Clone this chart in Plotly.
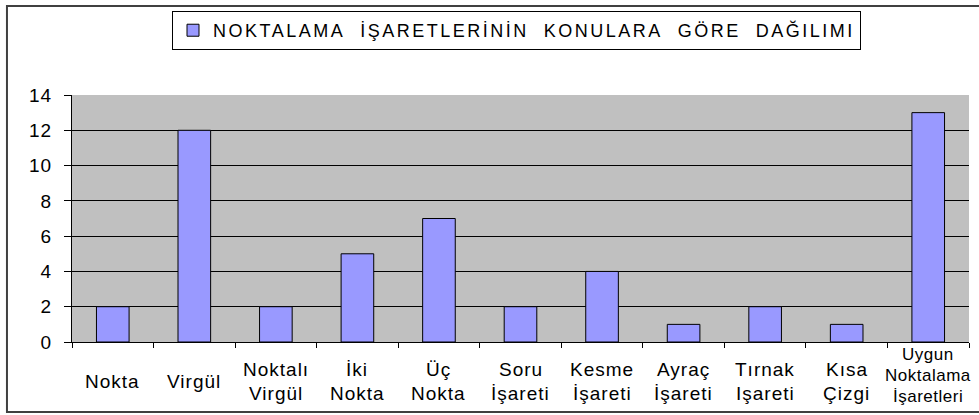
import plotly.graph_objects as go

# Categories (multi-line labels use "\n") and counts
categories = ["Nokta", "Virgül", "Noktalı\nVirgül", "İki\nNokta", "Üç\nNokta",
              "Soru\nİşareti", "Kesme\nİşareti", "Ayraç\nİşareti", "Tırnak\nIşareti",
              "Kısa\nÇizgi", "Uygun\nNoktalama\nİşaretleri"]
counts = [2, 12, 2, 5, 7, 2, 4, 1, 2, 1, 13]
y_ticks = [0, 2, 4, 6, 8, 10, 12, 14]
series_name = "NOKTALAMA İŞARETLERİNİN KONULARA GÖRE DAĞILIMI"

FONT = "Liberation Sans, Arial, sans-serif"
SIZE = 19


def spaced(text, px):
    return f'<span style="letter-spacing:{px}px">{text}</span>'


# wider word gaps in the legend caption
legend_label = spaced(series_name.replace(" ", "\u00a0 "), 2.5)

fig = go.Figure()
fig.add_trace(go.Bar(
    x=categories, y=counts, name=legend_label,
    marker=dict(color="#9999FF", line=dict(color="black", width=1)),
    width=0.4, showlegend=True,
))

# category labels under each bar, one text line per annotation
for cat in categories:
    lines = cat.split("\n")
    tall = len(lines) > 2
    pitch = 21 if tall else 24
    centre = 33 if tall else 39          # px below the axis
    size = 17 if tall else SIZE
    spacing = 0.5 if tall else 1
    first = centre - pitch * (len(lines) - 1) / 2
    for i, line in enumerate(lines):
        fig.add_annotation(
            x=cat, xref="x", y=0, yref="paper", yanchor="middle",
            yshift=-(first + i * pitch),
            text=spaced(line, spacing), showarrow=False, align="center",
            font=dict(family=FONT, size=size, color="black"),
        )

# outer chart frame
fig.add_shape(type="rect", xref="paper", yref="paper",
              x0=-0.0725, x1=1.04, y0=-0.283, y1=1.360,
              line=dict(color="#404040", width=2), fillcolor="rgba(0,0,0,0)",
              layer="below")

fig.update_layout(
    width=979, height=415,
    margin=dict(l=72, r=10, t=95, b=73),
    paper_bgcolor="white", plot_bgcolor="#C0C0C0",
    font=dict(family=FONT, size=SIZE, color="black"),
    showlegend=True,
    legend=dict(
        x=0.1115, y=1.34, xanchor="left", yanchor="top",
        orientation="h", bgcolor="white",
        bordercolor="black", borderwidth=1,
        font=dict(family=FONT, size=18, color="black"),
        itemwidth=30,
    ),
    xaxis=dict(
        type="category", tickson="boundaries",
        showticklabels=False, ticks="outside", ticklen=5, tickcolor="black",
        showline=True, linecolor="black", linewidth=1,
        showgrid=False, range=[-0.5, 10.5],
    ),
    yaxis=dict(
        range=[0, 14], tickvals=y_ticks,
        ticktext=[spaced(str(v), 1) for v in y_ticks],
        ticks="outside", ticklen=7,
        tickcolor="black", ticklabelstandoff=8,
        showline=True, linecolor="black", linewidth=1,
        showgrid=True, gridcolor="black", gridwidth=1, zeroline=False,
        tickfont=dict(family=FONT, size=SIZE, color="black"),
    ),
)

fig.write_html("out.html")
